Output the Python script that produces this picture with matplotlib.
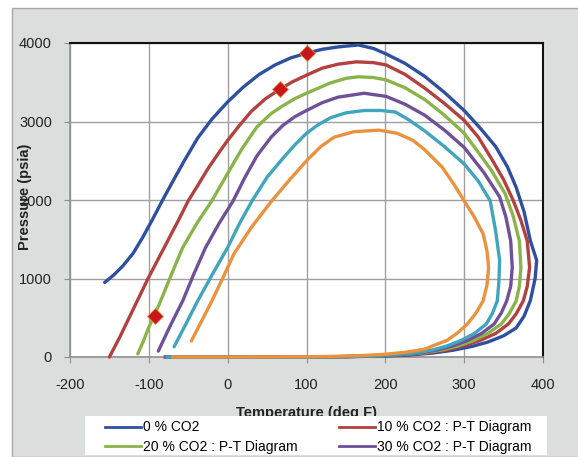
import matplotlib
matplotlib.use('Agg')
import matplotlib.pyplot as plt
from matplotlib.patches import Rectangle
from matplotlib.lines import Line2D

plt.rcParams['font.family'] = ['Liberation Sans', 'DejaVu Sans']
plt.rcParams['axes.unicode_minus'] = False

# phase envelopes (deg F, psia)
t_co2_0 = [-156, -145, -133, -120, -108, -96, -83, -70, -55, -38, -20, 0, 20, 40, 60, 80, 100, 120, 140, 166,
           185, 201, 225, 250, 275, 300, 320, 340, 355, 366, 376, 384, 392, 390, 384, 376, 366, 350, 330,
           310, 285, 260, 230, 200, 150, 100, 0, -80]
p_co2_0 = [950, 1040, 1160, 1320, 1520, 1740, 1990, 2230, 2500, 2790, 3030, 3250, 3440, 3600, 3720, 3810, 3870, 3920,
           3950, 3975, 3930, 3860, 3740, 3575, 3370, 3140, 2920, 2680, 2420, 2160, 1850, 1480, 1230, 1000, 720,
           520, 370, 270, 190, 135, 85, 50, 25, 12, 4, 1, 0, 0]

t_co2_10 = [-150, -137, -125, -113, -101, -88, -75, -62, -50, -37, -25, -12, 0, 15, 30, 48, 66, 83, 100, 120,
            140, 163, 185, 201, 225, 250, 275, 300, 318, 335, 350, 362, 372, 380, 383, 380, 375, 366, 356,
            340, 320, 300, 278, 250, 225, 190, 150, 100, 0, -80]
p_co2_10 = [0, 250, 500, 750, 1000, 1250, 1500, 1750, 1990, 2200, 2400, 2590, 2760, 2950, 3130, 3290, 3410, 3510,
            3590, 3680, 3730, 3760, 3750, 3720, 3600, 3425, 3230, 3015, 2800, 2520, 2260, 2000, 1740, 1480, 1140,
            900, 715, 550, 420, 300, 210, 145, 90, 50, 30, 15, 5, 1, 0, 0]

t_co2_20 = [-114, -107, -100, -92, -85, -71, -57, -38, -20, 0, 18, 37, 55, 70, 85, 100, 130, 150, 166, 185,
            201, 225, 250, 275, 300, 320, 335, 352, 362, 370, 372, 370, 366, 357, 347, 330, 312, 292, 272,
            245, 220, 190, 150, 100, 0, -80]
p_co2_20 = [40, 200, 380, 550, 715, 1060, 1395, 1720, 1990, 2340, 2650, 2930, 3100, 3200, 3290, 3360, 3490, 3550,
            3570, 3560, 3530, 3430, 3280, 3080, 2850, 2580, 2370, 2080, 1800, 1480, 1140, 900, 715, 550, 420,
            300, 210, 140, 90, 50, 30, 15, 5, 1, 0, 0]

t_co2_30 = [-88, -73, -57, -43, -28, -11, 7, 22, 37, 55, 70, 85, 100, 120, 140, 173, 201, 225, 250, 275,
            300, 325, 345, 353, 359, 361, 359, 354, 347, 338, 322, 304, 285, 266, 240, 215, 185, 150, 100,
            0, -79]
p_co2_30 = [75, 395, 715, 1055, 1395, 1700, 1990, 2290, 2560, 2800, 2950, 3060, 3140, 3240, 3310, 3360, 3320, 3220,
            3080, 2890, 2670, 2350, 2040, 1780, 1480, 1140, 900, 715, 560, 420, 300, 210, 140, 90, 50, 30, 15,
            5, 1, 0, 0]

t_co2_40 = [-68, -53, -38, -19, 0, 15, 31, 50, 70, 85, 100, 115, 131, 150, 173, 195, 213, 230, 250, 275,
            300, 318, 333, 340, 345, 344, 342, 336, 328, 313, 296, 278, 260, 235, 210, 180, 150, 100, 0, -77]
p_co2_40 = [130, 420, 715, 1060, 1395, 1700, 1990, 2290, 2530, 2700, 2850, 2960, 3050, 3110, 3140, 3140, 3120, 3020,
            2880, 2680, 2460, 2240, 1990, 1600, 1230, 950, 715, 560, 420, 300, 210, 140, 90, 50, 30, 15, 5,
            1, 0, 0]

t_co2_50 = [-46, -33, -20, -6, 8, 30, 56, 78, 100, 118, 135, 160, 192, 215, 235, 250, 272, 287, 300, 313,
            324, 329, 331, 329, 324, 315, 304, 292, 278, 262, 250, 225, 200, 170, 133, 100, 0, -70]
p_co2_50 = [205, 460, 715, 1010, 1315, 1650, 1990, 2250, 2500, 2680, 2800, 2870, 2890, 2850, 2760, 2640, 2420, 2200,
            1990, 1780, 1570, 1350, 1140, 920, 715, 560, 420, 310, 210, 150, 100, 60, 35, 18, 8, 3, 0, 0]

# red diamond points
t_marks = [100, 66, -92]
p_marks = [3870, 3410, 525]

curves = [
    (t_co2_0, p_co2_0, '#2f4fa0', '0 % CO2'),
    (t_co2_10, p_co2_10, '#b3413f', '10 % CO2 : P-T Diagram'),
    (t_co2_20, p_co2_20, '#8ab34a', '20 % CO2 : P-T Diagram'),
    (t_co2_30, p_co2_30, '#6e5196', '30 % CO2 : P-T Diagram'),
    (t_co2_40, p_co2_40, '#40a5bd', None),
    (t_co2_50, p_co2_50, '#eb923f', None),
]

fig = plt.figure(figsize=(5.78, 4.57), dpi=100)
fig.patch.set_facecolor('white')
# grey chart area like the spreadsheet export
fig.patches.append(Rectangle((12 / 578, 0), 1, 1 - 8 / 457, transform=fig.transFigure,
                             facecolor='#dcdedd', edgecolor='#a8a8a8', linewidth=1.0, zorder=-5))

ax = fig.add_axes([70 / 578, 1 - 357 / 457, 473 / 578, 314 / 457])
ax.set_facecolor('white')

handles = {}
for t, p, c, lab in curves:
    ax.plot(t, p, color=c, lw=2.4, solid_capstyle='round', solid_joinstyle='round', clip_on=False, zorder=3)
    if lab:
        handles[lab] = Line2D([], [], color=c, lw=2.0, label=lab)

ax.plot(t_marks, p_marks, 'D', color='#c8161d', mec='#e0903a', mew=0.6, ms=8, zorder=5)

ax.set_xlim(-200, 400)
ax.set_ylim(0, 4000)
ax.set_xticks(range(-200, 401, 100))
ax.set_yticks(range(0, 4001, 1000))
ax.grid(True, color='#a0a0a0', lw=1.0)
ax.set_axisbelow(True)
ax.tick_params(axis='both', direction='out', length=4, color='#909090', labelsize=10.5, labelcolor='#222222')
ax.tick_params(axis='x', pad=11)
ax.tick_params(axis='y', pad=9)
for side in ['left', 'bottom']:
    ax.spines[side].set_color('#909090')
    ax.spines[side].set_linewidth(1.2)
for side in ['top', 'right']:
    ax.spines[side].set_color('#111111')
    ax.spines[side].set_linewidth(1.5)

fig.text(25 / 578, 1 - 197 / 457, 'Pressure (psia)', rotation=90, ha='center', va='center',
         fontsize=10.5, fontweight='bold', color='#222222')
fig.text(307 / 578, 1 - 413 / 457, 'Temperature (deg F)', ha='center', va='center',
         fontsize=10.5, fontweight='bold', color='#222222', zorder=1)

# white legend box, drawn over the axis title as in the original
fig.patches.append(Rectangle((85 / 578, 2 / 457), 462 / 578, 39 / 457, transform=fig.transFigure,
                             facecolor='white', edgecolor='none', zorder=8))
order = ['0 % CO2', '20 % CO2 : P-T Diagram', '10 % CO2 : P-T Diagram', '30 % CO2 : P-T Diagram']
leg = fig.legend(handles=[handles[k] for k in order], ncol=2, loc='lower left', mode='expand',
                 bbox_to_anchor=(104 / 578, 2 / 457, 428 / 578, 39 / 457),
                 fontsize=10, frameon=False, handlelength=2.6, handletextpad=0.15,
                 labelspacing=0.42, borderpad=0.05, borderaxespad=0)
leg.set_zorder(10)

fig.savefig('out.png', dpi=100)
